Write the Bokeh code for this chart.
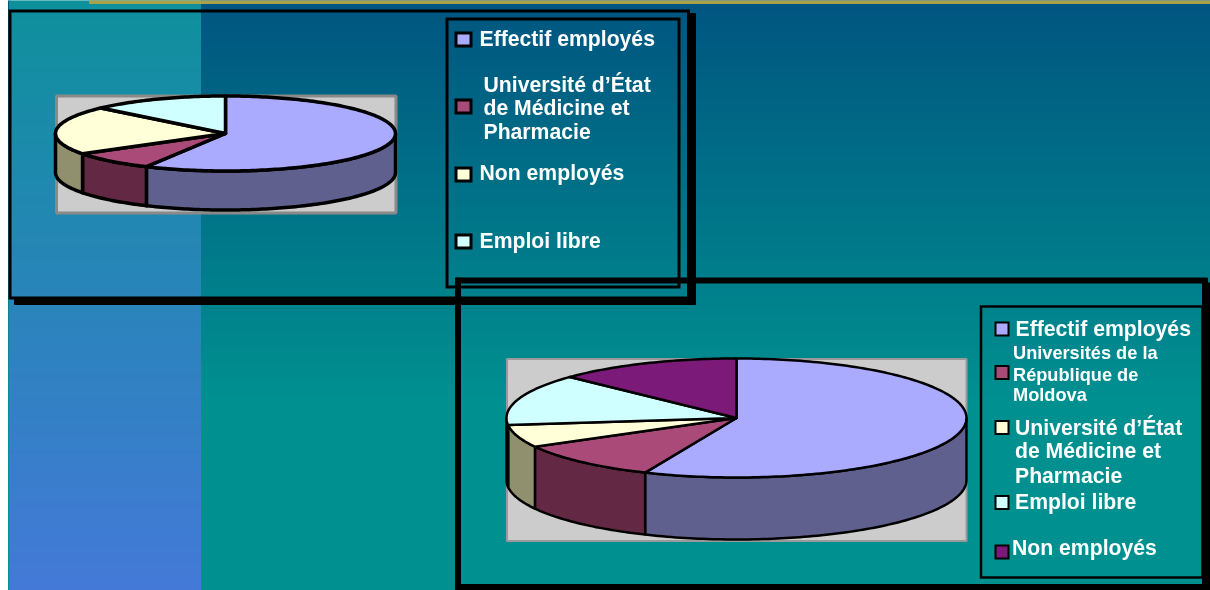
import math
from bokeh.plotting import figure
from bokeh.models import Range1d
from bokeh.core.properties import value
from bokeh.embed import file_html
from bokeh.resources import INLINE

# --- data ---
top_categories = ["Effectif employés", "Université d’État de Médicine et Pharmacie", "Non employés", "Emploi libre"]
top_values = [57.7, 8.2, 21.0, 13.1]
top_colors = ["#AAAAFF", "#AA4A78", "#FFFFD8", "#CFFFFF"]
top_side_colors = ["#60608F", "#632843", "#90906F", "#75908F"]
top_labels = [["Effectif employés"], ["Université d’État", "de Médicine et", "Pharmacie"], ["Non employés"], ["Emploi libre"]]

bottom_categories = ["Effectif employés", "Universités de la République de Moldova", "Université d’État de Médicine et Pharmacie", "Emploi libre", "Non employés"]
bottom_values = [56.5, 10.5, 6.1, 14.0, 12.9]
bottom_colors = ["#AAAAFF", "#AA4A78", "#FFFFD8", "#CFFFFF", "#7B1A78"]
bottom_side_colors = ["#60608F", "#632843", "#90906F", "#75908F", "#450F43"]
bottom_labels = [["Effectif employés"], ["Universités de la", "République de", "Moldova"], ["Université d’État", "de Médicine et", "Pharmacie"], ["Emploi libre"], ["Non employés"]]

W, H = 1210, 590
FONT = value("Liberation Sans")

p = figure(width=W, height=H, x_range=Range1d(0, W), y_range=Range1d(H, 0),
           output_backend="svg", toolbar_location=None, min_border=0, outline_line_color=None)
p.axis.visible = False
p.grid.visible = False
p.background_fill_color = "white"
p.border_fill_color = "white"
p.styles = {"position": "fixed", "left": "0px", "top": "0px"}


def lerp(c0, c1, t):
    return "#%02x%02x%02x" % tuple(round(a + (b - a) * t) for a, b in zip(c0, c1))


# slide background
rows = list(range(0, H, 2))
right_cols = [lerp((0x00, 0x55, 0x80), (0x00, 0x90, 0x90), min(1, r / 400)) for r in rows]
p.quad(left=8, right=9, top=rows, bottom=[r + 2 for r in rows], color=right_cols)
p.quad(left=9, right=201, top=rows, bottom=[r + 2 for r in rows],
       color=[lerp((0x0E, 0x90, 0x9C), (0x44, 0x79, 0xD8), r / H) for r in rows])
p.quad(left=201, right=W, top=rows, bottom=[r + 2 for r in rows], color=right_cols)
p.quad(left=89, right=W, top=-2, bottom=3, fill_color="#A9A24B", line_color="#A9A24B", line_width=1)


def frame(x0, y0, x1, y1, w):
    p.quad(left=x0, right=x1, top=y0, bottom=y1, fill_color=None, line_color="black", line_width=w, line_join="miter")


def pie3d(values, colors, sides, cx, cy, rx, ry, depth, lw):
    total = sum(values)
    def pt(th, dy=0.0):
        return cx + rx * math.sin(th), cy - ry * math.cos(th) + dy
    def arc(a, b):
        n = max(2, int(abs(b - a) / 0.02))
        return [a + (b - a) * i / n for i in range(n + 1)]
    edges = [0.0]
    for v in values:
        edges.append(edges[-1] + v / total * 2 * math.pi)
    xs, ys, fc = [], [], []
    for i in range(len(values)):
        a, b = max(edges[i], math.pi / 2), min(edges[i + 1], 3 * math.pi / 2)
        if a >= b:
            continue
        ths = arc(a, b)
        up = [pt(t) for t in ths]
        dn = [pt(t, depth) for t in reversed(ths)]
        xs.append([q[0] for q in up + dn])
        ys.append([q[1] for q in up + dn])
        fc.append(sides[i])
    p.patches(xs, ys, fill_color=fc, line_color="black", line_width=lw, line_join="round")
    xs, ys, fc = [], [], []
    for i in range(len(values)):
        ths = arc(edges[i], edges[i + 1])
        q = [(cx, cy)] + [pt(t) for t in ths]
        xs.append([k[0] for k in q])
        ys.append([k[1] for k in q])
        fc.append(colors[i])
    p.patches(xs, ys, fill_color=fc, line_color="black", line_width=lw, line_join="round")


def legend(labels, colors, swatch_x, swatch_ys, sw, sh, text_rows, sw_lw):
    p.rect(x=[swatch_x] * len(colors), y=swatch_ys, width=sw, height=sh,
           fill_color=colors, line_color="black", line_width=sw_lw, line_join="miter")
    for lines, rows_ in zip(labels, text_rows):
        for line, (tx, ty, fs) in zip(lines, rows_):
            p.text(x=[tx], y=[ty], text=[line], text_color="white", text_font=FONT, text_font_style="bold",
                   text_font_size=f"{fs}px", text_baseline="middle", text_align="left")


# top panel
p.quad(left=688, right=695, top=13, bottom=304, color="black")
p.quad(left=14, right=695, top=299, bottom=304, color="black")
frame(9.5, 10.5, 688, 297.5, 3)
frame(446.5, 18.5, 678.5, 286.5, 3)
p.quad(left=56, right=395.5, top=95.5, bottom=212.5, fill_color="#CCCCCC", line_color="#8A8A8A", line_width=3)
pie3d(top_values, top_colors, top_side_colors, 225, 133, 170, 37.5, 39, 3.5)
legend(top_labels, top_colors, 463, [39, 106, 174, 241], 15, 13, [
    [(479, 38, 21.2)],
    [(483, 84, 21.2), (483, 107, 21.2), (483, 131, 21.2)],
    [(479, 172, 21.2)],
    [(479, 240, 21.2)],
], 3)

# bottom panel
p.quad(left=455, right=1207, top=277.5, bottom=282.5, color="black")
p.quad(left=455, right=460, top=277.5, bottom=H, color="black")
p.quad(left=455, right=W, top=584, bottom=H, color="black")
p.quad(left=1202, right=W, top=282.5, bottom=H, color="black")
p.quad(left=980.5, right=1202, top=306, bottom=577, fill_color=None, line_color="black", line_width=2.5, line_join="miter")
p.quad(left=506.5, right=966, top=358.5, bottom=540.5, fill_color="#CCCCCC", line_color="#9A9A9A", line_width=2)
pie3d(bottom_values, bottom_colors, bottom_side_colors, 736, 417.5, 230, 59.5, 62, 2.5)
legend(bottom_labels, bottom_colors, 1001.5, [328.5, 372, 427, 502, 551.5], 13, 13, [
    [(1015, 328, 21.2)],
    [(1012.5, 352, 18.2), (1012.5, 374, 18.2), (1012.5, 394, 18.2)],
    [(1014.5, 427, 21.2), (1014.5, 450, 21.2), (1014.5, 475, 21.2)],
    [(1014.5, 501, 21.2)],
    [(1011.5, 547, 21.2)],
], 2)

open("out.html", "w").write(file_html(p, INLINE))
